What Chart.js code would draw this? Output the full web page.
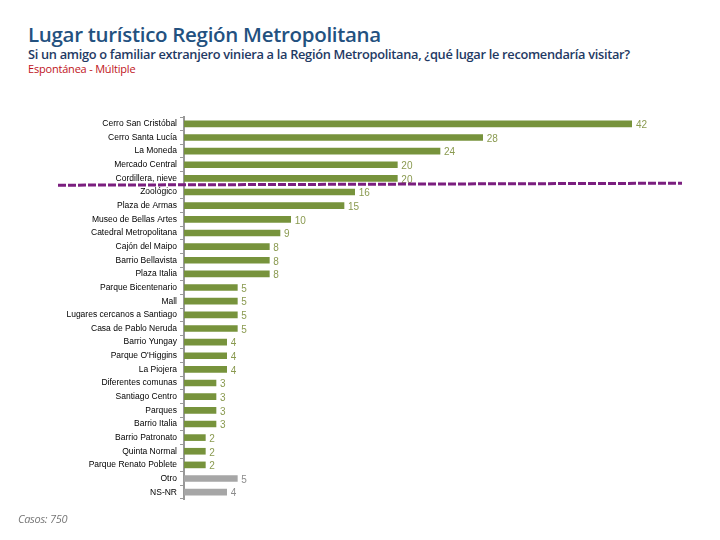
<!doctype html>
<html lang="es">
<head>
<meta charset="utf-8">
<title>Lugar turístico Región Metropolitana</title>
<style>
  * { margin: 0; padding: 0; }
  body { width: 720px; height: 540px; background: #fff; position: relative; overflow: hidden; }
  .title { position: absolute; left: 28px; top: 20px; font-family: "Open Sans", sans-serif; font-weight: 600; font-size: 20.5px; color: #23517f; letter-spacing: -0.3px; white-space: nowrap; }
  .sub { position: absolute; left: 28px; top: 45px; font-family: "Open Sans", sans-serif; font-weight: 600; font-size: 12.8px; color: #1f3a64; letter-spacing: -0.3px; white-space: nowrap; }
  .note { position: absolute; left: 28px; top: 61px; font-family: "Open Sans", sans-serif; font-size: 11px; color: #c0141c; letter-spacing: -0.2px; }
  .casos { position: absolute; left: 18px; top: 511px; font-family: "Open Sans", sans-serif; font-style: italic; font-size: 11px; color: #777; letter-spacing: -0.3px; }
  #chart { position: absolute; left: 0; top: 0; }
</style>
</head>
<body>
<div class="title">Lugar turístico Región Metropolitana</div>
<div class="sub">Si un amigo o familiar extranjero viniera a la Región Metropolitana, ¿qué lugar le recomendaría visitar?</div>
<div class="note">Espontánea - Múltiple</div>
<canvas id="chart" width="720" height="540"></canvas>
<div class="casos">Casos: 750</div>

<script src="https://cdn.jsdelivr.net/npm/chart.js/dist/chart.umd.min.js"></script>
<script>
// data
const places = [
  'Cerro San Cristóbal', 'Cerro Santa Lucía', 'La Moneda', 'Mercado Central',
  'Cordillera, nieve', 'Zoológico', 'Plaza de Armas', 'Museo de Bellas Artes',
  'Catedral Metropolitana', 'Cajón del Maipo', 'Barrio Bellavista', 'Plaza Italia',
  'Parque Bicentenario', 'Mall', 'Lugares cercanos a Santiago', 'Casa de Pablo Neruda',
  'Barrio Yungay', "Parque O'Higgins", 'La Piojera', 'Diferentes comunas',
  'Santiago Centro', 'Parques', 'Barrio Italia', 'Barrio Patronato',
  'Quinta Normal', 'Parque Renato Poblete', 'Otro', 'NS-NR'
];
const mentions = [42, 28, 24, 20, 20, 16, 15, 10, 9, 8, 8, 8, 5, 5, 5, 5, 4, 4, 4, 3, 3, 3, 3, 2, 2, 2, 5, 4];
const otherRows = ['Otro', 'NS-NR'];
const cutAfter = 'Cordillera, nieve';

const green = '#77933c';
const grey = '#a6a6a6';
const barColors = places.map(p => otherRows.includes(p) ? grey : green);

// value labels at end of each bar
const valueLabels = {
  id: 'valueLabels',
  afterDatasetsDraw(chart) {
    const { ctx } = chart;
    const meta = chart.getDatasetMeta(0);
    ctx.save();
    ctx.font = '10px "Liberation Sans", Arial, sans-serif';
    ctx.textAlign = 'left';
    ctx.textBaseline = 'middle';
    meta.data.forEach((bar, i) => {
      ctx.fillStyle = otherRows.includes(places[i]) ? '#8c8c8c' : '#8a9a50';
      ctx.fillText(mentions[i], bar.x + 4, bar.y + 1.5);
    });
    ctx.restore();
  }
};

// purple dashed divider below "Cordillera, nieve"
const divider = {
  id: 'divider',
  afterDraw(chart) {
    const { ctx, scales: { y } } = chart;
    const i = places.indexOf(cutAfter);
    const yy = (y.getPixelForValue(i) + y.getPixelForValue(i + 1)) / 2 - 1;
    ctx.save();
    ctx.strokeStyle = '#7b1f7f';
    ctx.lineWidth = 3;
    ctx.setLineDash([8, 2]);
    ctx.beginPath();
    ctx.moveTo(58, yy + 1);
    ctx.lineTo(682, yy - 1);
    ctx.stroke();
    ctx.restore();
  }
};

const config = {
  type: 'bar',
  data: {
    labels: places,
    datasets: [{
      data: mentions,
      backgroundColor: barColors,
      borderWidth: 0,
      barThickness: 6
    }]
  },
  options: {
    indexAxis: 'y',
    responsive: false,
    animation: false,
    layout: { padding: { top: 117, right: 88, bottom: 41, left: 0 } },
    plugins: { legend: { display: false }, tooltip: { enabled: false } },
    scales: {
      x: { display: false, min: 0, max: 42 },
      y: {
        afterFit(scale) { scale.width = 184; },
        border: { display: true, color: '#999', width: 2 },
        grid: { display: true, drawOnChartArea: false, tickLength: 4, color: '#999', lineWidth: 1 },
        ticks: {
          color: '#000',
          padding: 3,
          autoSkip: false,
          font: { family: '"Liberation Sans", Arial, sans-serif', size: 8.5 }
        }
      }
    }
  },
  plugins: [valueLabels, divider]
};

const myChart = new Chart(document.getElementById('chart'), config);
</script>
</body>
</html>
